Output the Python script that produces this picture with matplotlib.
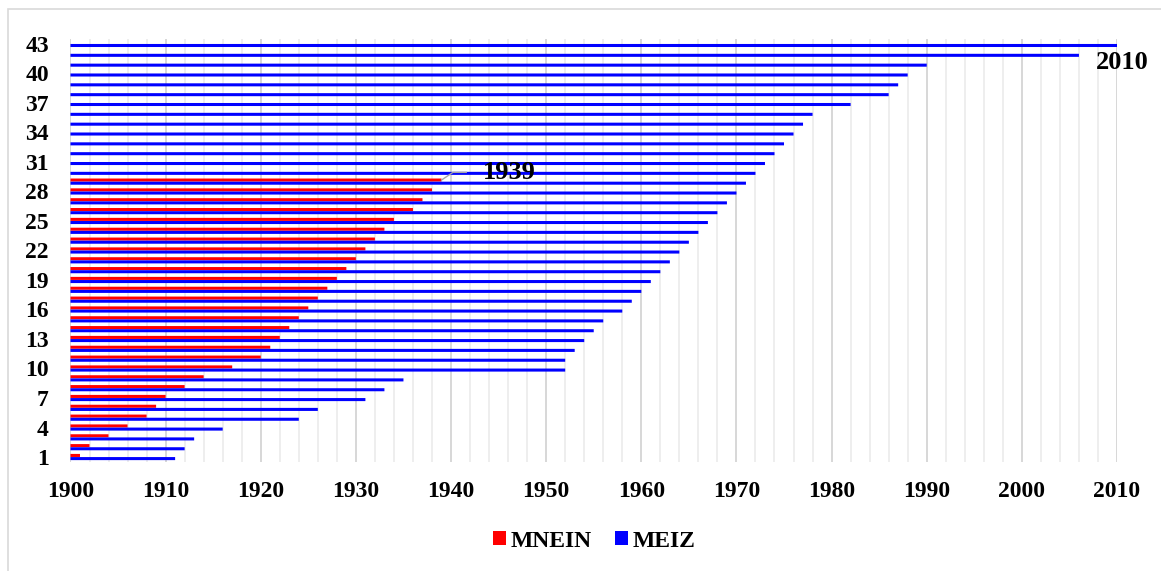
import numpy as np
import matplotlib
matplotlib.use("Agg")
import matplotlib.pyplot as plt
from matplotlib.patches import Rectangle

plt.rcParams['font.family'] = ['Liberation Serif', 'DejaVu Serif']
plt.rcParams['font.weight'] = 'bold'

# data (end year of each bar)
mnein = [1901, 1902, 1904, 1906, 1908, 1909, 1910, 1912, 1914, 1917,
         1920, 1921, 1922, 1923, 1924, 1925, 1926, 1927, 1928, 1929,
         1930, 1931, 1932, 1933, 1934, 1936, 1937, 1938, 1939]
meiz = [1911, 1912, 1913, 1916, 1924, 1926, 1931, 1933, 1935, 1952,
        1952, 1953, 1954, 1955, 1956, 1958, 1959, 1960, 1961, 1962,
        1963, 1964, 1965, 1966, 1967, 1968, 1969, 1970, 1971, 1972,
        1973, 1974, 1975, 1976, 1977, 1978, 1982, 1986, 1987, 1988,
        1990, 2006, 2010]
start = 1900
ytick_labels = list(range(1, 44, 3))
xtick_labels = list(range(1900, 2011, 10))

FS = 17
fig = plt.figure(figsize=(11.61, 5.71), dpi=100)
ax = fig.add_axes([0.0607, 0.191, 0.9014, 0.7407])

y_red = np.arange(1, len(mnein) + 1)
y_blue = np.arange(1, len(meiz) + 1)
h = 0.31
off = 0.16
ax.barh(y_red + off, np.array(mnein) - start, left=start, height=h,
        color='#FF0000', label='MNEIN', zorder=3, snap=False)
ax.barh(y_blue - off, np.array(meiz) - start, left=start, height=h,
        color='#0000FF', label='MEIZ', zorder=3, snap=False)

ax.set_xlim(1900, 2010)
ax.set_ylim(0.5, 43.5)
ax.set_xticks(xtick_labels)
ax.set_xticks(np.arange(1900, 2011, 2), minor=True)
ax.set_yticks(ytick_labels)
ax.grid(axis='x', which='minor', color='#EDEDED', lw=1.3, zorder=0)
ax.grid(axis='x', which='major', color='#D4D4D4', lw=1.3, zorder=1)
ax.tick_params(axis='both', which='both', length=0, labelsize=FS)
ax.tick_params(axis='x', pad=14)
ax.tick_params(axis='y', pad=15.5)
for s in ax.spines.values():
    s.set_visible(False)

# annotations
ax.plot([1939, 1940.2, 1941.6], [29 + off, 29.94, 29.94], color='#A6A6A6',
        lw=1, zorder=4)
ax.text(1943.3, 29.9, '1939', fontsize=19, fontweight='bold', va='center',
        ha='left', zorder=5)
ax.text(2007.8, 41.1, '2010', fontsize=19, fontweight='bold', va='center',
        ha='left', clip_on=False, zorder=5)

fig.legend(loc='center', bbox_to_anchor=(0.512, 0.0525), ncol=2,
           frameon=False, fontsize=FS, handlelength=0.55, handleheight=0.55,
           handletextpad=0.2, columnspacing=1.0)

# chart area border
fig.patches.append(Rectangle((8 / 1161, -0.05), 1.1, 1.05 - 9 / 571,
                             transform=fig.transFigure, fill=False,
                             edgecolor='#D9D9D9', lw=1.2))

fig.savefig('out.png', dpi=100)
